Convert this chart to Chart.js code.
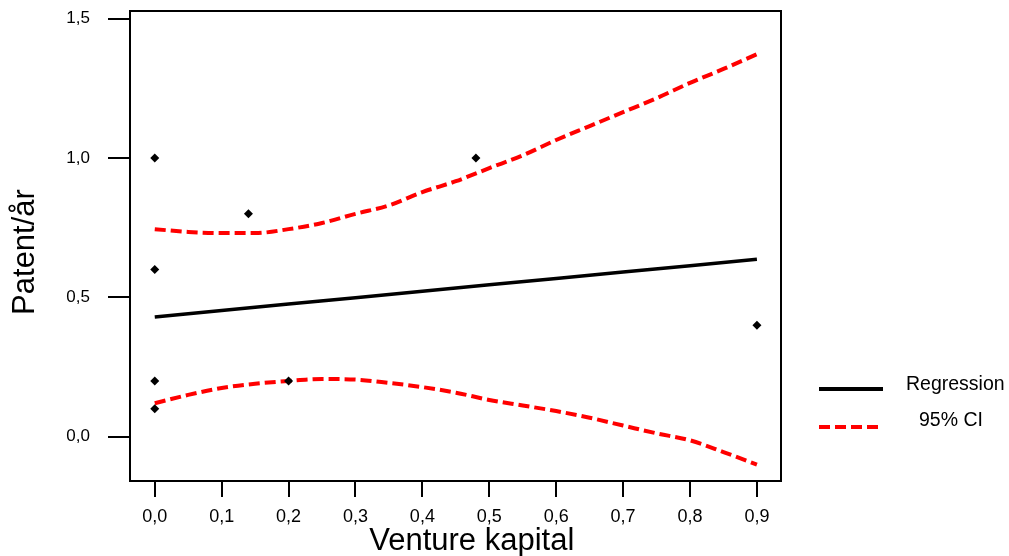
<!DOCTYPE html>
<html>
<head>
<meta charset="utf-8">
<script src="https://cdn.jsdelivr.net/npm/chart.js@4"></script>
<style>
  html, body { margin: 0; padding: 0; background: #fff; }
  #wrap { width: 1009px; height: 556px; position: relative; }
</style>
</head>
<body>
<div id="wrap"><canvas id="chart" width="1009" height="556"></canvas></div>
<script>
// Observations (Venture kapital vs Patent/år)
const pointX = [0, 0, 0, 0, 0.14, 0.2, 0.48, 0.9];
const pointY = [1.0, 0.6, 0.2, 0.1, 0.8, 0.2, 1.0, 0.4];

// Fitted line and confidence band
const fitX = [0, 0.1, 0.2, 0.3, 0.4, 0.5, 0.6, 0.7, 0.8, 0.9];
const fitY = [0.43, 0.453, 0.476, 0.499, 0.522, 0.545, 0.568, 0.591, 0.614, 0.637];

const ciX = [0, 0.05, 0.1, 0.15, 0.2, 0.25, 0.3, 0.35, 0.4, 0.45, 0.5, 0.55, 0.6, 0.65, 0.7, 0.75, 0.8, 0.85, 0.9];
const ciUpper = [0.745, 0.735, 0.731, 0.731, 0.745, 0.767, 0.8, 0.83, 0.878, 0.917, 0.964, 1.01, 1.065, 1.115, 1.165, 1.215, 1.27, 1.32, 1.373];
const ciLower = [0.12, 0.15, 0.175, 0.19, 0.2, 0.207, 0.205, 0.193, 0.178, 0.158, 0.132, 0.112, 0.092, 0.068, 0.04, 0.012, -0.013, -0.055, -0.1];

const xTicks = [0, 0.1, 0.2, 0.3, 0.4, 0.5, 0.6, 0.7, 0.8, 0.9];
const yTicks = [0, 0.5, 1.0, 1.5];

const legendLabels = ["Regression", "95% CI"];
const xTitle = "Venture kapital";
const yTitle = "Patent/år";

const FONT = "'Liberation Sans', Arial, sans-serif";

function pairs(xs, ys) {
    return xs.map((x, i) => ({ x: x, y: ys[i] }));
}

function commaLabel(v) {
    return Number(v).toFixed(1).replace('.', ',');
}

// Draws the closed frame, axis titles and the side legend
const decorations = {
    id: 'decorations',
    afterDraw(chart) {
        const ctx = chart.ctx;
        const a = chart.chartArea;
        ctx.save();

        // frame around plot area
        ctx.strokeStyle = '#000';
        ctx.lineWidth = 2;
        ctx.strokeRect(a.left, a.top, a.right - a.left, a.bottom - a.top);

        // x axis title
        ctx.fillStyle = '#000';
        ctx.font = "31px " + FONT;
        ctx.textAlign = 'center';
        ctx.textBaseline = 'middle';
        ctx.fillText(xTitle, a.left + (a.right - a.left) * 0.525, 541);

        // y axis title
        ctx.save();
        ctx.translate(25, 252);
        ctx.rotate(-Math.PI / 2);
        ctx.fillText(yTitle, 0, 0);
        ctx.restore();

        // legend
        const lx = a.right + 38;
        ctx.lineWidth = 4;
        ctx.strokeStyle = '#000';
        ctx.setLineDash([]);
        ctx.beginPath();
        ctx.moveTo(lx, 389);
        ctx.lineTo(lx + 64, 389);
        ctx.stroke();

        ctx.strokeStyle = '#ff0000';
        ctx.setLineDash([11, 5]);
        ctx.beginPath();
        ctx.moveTo(lx, 427);
        ctx.lineTo(lx + 64, 427);
        ctx.stroke();
        ctx.setLineDash([]);

        ctx.font = "19.5px " + FONT;
        ctx.textAlign = 'left';
        ctx.fillText(legendLabels[0], 906, 385);
        ctx.fillText(legendLabels[1], 919, 421);

        ctx.restore();
    }
};

const config = {
    type: 'scatter',
    data: {
        datasets: [
            {
                label: 'Observations',
                data: pairs(pointX, pointY),
                pointStyle: 'rectRot',
                pointRadius: 4.5,
                backgroundColor: '#000',
                borderColor: '#000',
                borderWidth: 0,
                showLine: false,
            },
            {
                label: legendLabels[0],
                data: pairs(fitX, fitY),
                showLine: true,
                borderColor: '#000',
                borderWidth: 3.5,
                pointRadius: 0,
                fill: false,
            },
            {
                label: legendLabels[1],
                data: pairs(ciX, ciUpper),
                showLine: true,
                borderColor: '#ff0000',
                borderWidth: 4,
                borderDash: [11, 5],
                cubicInterpolationMode: 'monotone',
                pointRadius: 0,
                fill: false,
            },
            {
                label: legendLabels[1] + ' lower',
                data: pairs(ciX, ciLower),
                showLine: true,
                borderColor: '#ff0000',
                borderWidth: 4,
                borderDash: [11, 5],
                cubicInterpolationMode: 'monotone',
                pointRadius: 0,
                fill: false,
            },
        ],
    },
    options: {
        responsive: false,
        animation: false,
        layout: {
            padding: { top: 11, right: 228, left: 0, bottom: 0 },
        },
        plugins: {
            legend: { display: false },
            tooltip: { enabled: false },
        },
        scales: {
            x: {
                type: 'linear',
                min: -0.037,
                max: 0.936,
                afterBuildTicks(scale) {
                    scale.ticks = xTicks.map(v => ({ value: v }));
                },
                afterFit(scale) {
                    scale.height = 75;
                    scale.paddingLeft = 0;
                    scale.paddingRight = 0;
                },
                grid: {
                    display: true,
                    drawOnChartArea: false,
                    drawTicks: true,
                    tickLength: 16,
                    color: '#000',
                    lineWidth: 2,
                },
                border: { display: true, color: '#000', width: 2 },
                ticks: {
                    color: '#000',
                    padding: 9,
                    maxRotation: 0,
                    autoSkip: false,
                    font: { family: FONT, size: 18 },
                    callback: commaLabel,
                },
            },
            y: {
                type: 'linear',
                min: -0.159,
                max: 1.528,
                afterBuildTicks(scale) {
                    scale.ticks = yTicks.map(v => ({ value: v }));
                },
                afterFit(scale) {
                    scale.width = 130;
                    scale.paddingTop = 0;
                    scale.paddingBottom = 0;
                },
                grid: {
                    display: true,
                    drawOnChartArea: false,
                    drawTicks: true,
                    tickLength: 22,
                    color: '#000',
                    lineWidth: 2,
                },
                border: { display: true, color: '#000', width: 2 },
                ticks: {
                    color: '#000',
                    padding: 18,
                    autoSkip: false,
                    font: { family: FONT, size: 17 },
                    callback: commaLabel,
                },
            },
        },
    },
    plugins: [decorations],
};

new Chart(document.getElementById('chart').getContext('2d'), config);
</script>
</body>
</html>
